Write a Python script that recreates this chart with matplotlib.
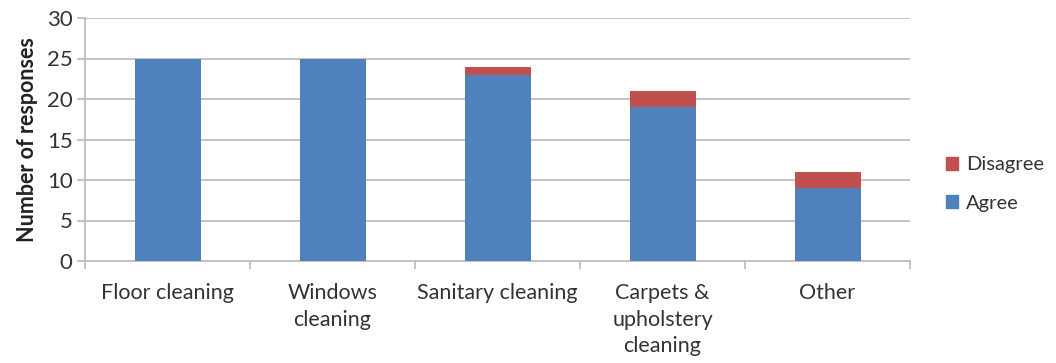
import matplotlib
matplotlib.use("Agg")
import matplotlib.pyplot as plt
import numpy as np
from matplotlib.patches import Patch

categories = ["Floor cleaning", "Windows\ncleaning", "Sanitary cleaning",
              "Carpets &\nupholstery\ncleaning", "Other"]
agree = [25, 25, 23, 19, 9]
disagree = [0, 0, 1, 2, 2]
y_ticks = [0, 5, 10, 15, 20, 25, 30]

blue = "#4F81BD"
red = "#C0504D"
grid_c = "#BEBEBE"
text_c = "#333333"

plt.rcParams["font.family"] = ["Lato", "DejaVu Sans"]

fig = plt.figure(figsize=(10.56, 3.63), dpi=100)
ax = fig.add_axes([85 / 1056, 1 - 261 / 363, 825 / 1056, 243 / 363])

x = np.arange(len(categories))
ax.bar(x, agree, width=0.4, color=blue, zorder=3, label="Agree")
ax.bar(x, disagree, width=0.4, bottom=agree, color=red, zorder=3, label="Disagree")

ax.set_xlim(-0.5, len(categories) - 0.5)
ax.set_ylim(0, 30)
ax.set_yticks(y_ticks)
ax.yaxis.grid(True, color=grid_c, linewidth=1.3, zorder=0)
ax.set_axisbelow(True)

for side in ["top", "right"]:
    ax.spines[side].set_visible(False)
for side in ["left", "bottom"]:
    ax.spines[side].set_color(grid_c)
    ax.spines[side].set_linewidth(1.3)

ax.set_xticks(np.arange(-0.5, len(categories), 1.0))
ax.set_xticklabels([])
ax.set_xticks(x, minor=True)
ax.set_xticklabels(categories, minor=True, fontsize=15.5, color=text_c, linespacing=1.4)
ax.tick_params(axis="x", which="major", length=6, color=grid_c, width=1.3)
ax.tick_params(axis="x", which="minor", length=0, pad=16)
ax.tick_params(axis="y", length=6, color=grid_c, width=1.3, labelsize=16,
               labelcolor=text_c, pad=3)

ax.set_ylabel("Number of responses", fontsize=15.5, fontweight="bold", color="#222222",
              labelpad=6)

handles = [Patch(color=red, label="Disagree"), Patch(color=blue, label="Agree")]
fig.legend(handles=handles, loc="center left", bbox_to_anchor=(928 / 1056, 1 - 184 / 363),
           frameon=False, fontsize=14.5, handlelength=0.6, handleheight=0.6,
           handletextpad=0.4, labelspacing=1.05, labelcolor=text_c)

fig.savefig("out.png", dpi=100)
